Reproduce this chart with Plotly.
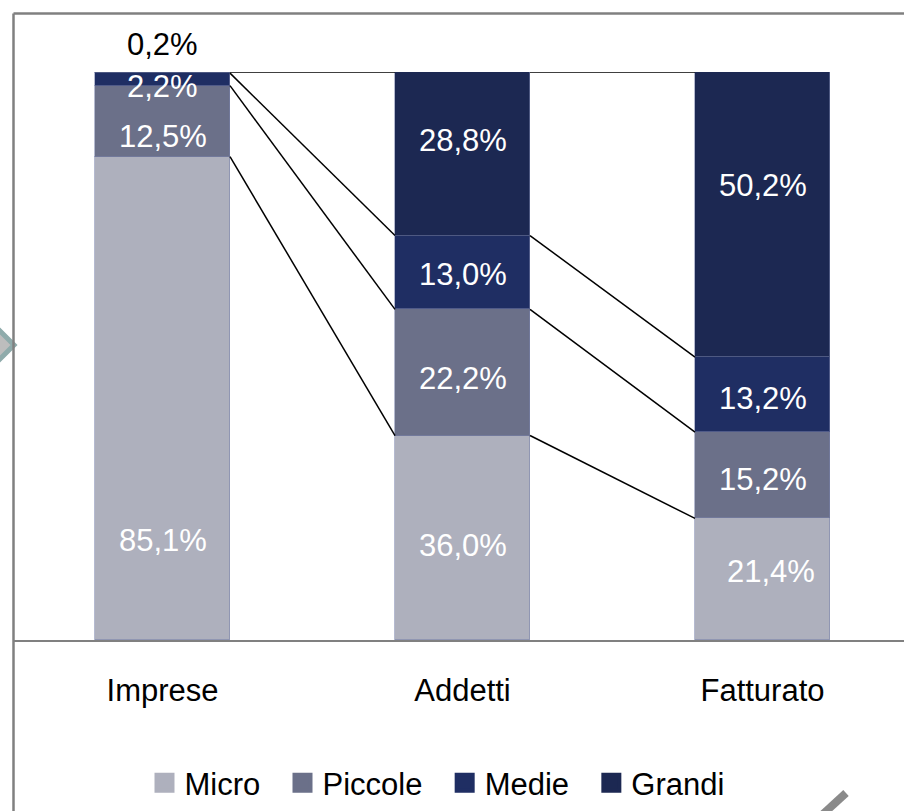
import plotly.graph_objects as go

# ---------------- data ----------------
categories = ["Imprese", "Addetti", "Fatturato"]
series_names = ["Micro", "Piccole", "Medie", "Grandi"]
micro = [85.1, 36.0, 21.4]
piccole = [12.5, 22.2, 15.2]
medie = [2.2, 13.0, 13.2]
grandi = [0.2, 28.8, 50.2]

# label vertical placement (in % units), as in the original
label_micro_y = [17.6, 16.7, 12.0]
label_piccole_y = [88.7, 46.1, 28.2]
label_medie_y = [97.5, 64.3, 42.6]
label_grandi_y = [104.8, 88.0, 80.1]

colors = ["#AEB0BD", "#6B7089", "#1F2E63", "#1C2852"]
FONT = "Liberation Sans, Arial, sans-serif"
FS = 31

values = [micro, piccole, medie, grandi]
label_ys = [label_micro_y, label_piccole_y, label_medie_y, label_grandi_y]

xs = list(range(len(categories)))
BW = 0.45

fig = go.Figure()

for name, vals, col in zip(series_names, values, colors):
    fig.add_trace(go.Bar(
        x=xs, y=vals, name=name, width=BW,
        marker=dict(color=col, line=dict(color="rgba(120,130,170,0.55)", width=1)),
        showlegend=False, hoverinfo="skip",
    ))

# connector lines between stacked segment boundaries
cum = []
run = [0.0] * len(categories)
for vals in values:
    run = [r + v for r, v in zip(run, vals)]
    cum.append(list(run))
lx, ly = [], []
for i in range(len(categories) - 1):
    for c in cum:
        lx += [i + BW / 2, i + 1 - BW / 2, None]
        ly += [c[i], c[i + 1], None]
fig.add_trace(go.Scatter(x=lx, y=ly, mode="lines", line=dict(color="black", width=1.5),
                         showlegend=False, hoverinfo="skip", cliponaxis=False))

# legend entries (trailing no-break spaces widen the gaps like the original)
for k, (name, col) in enumerate(zip(series_names, colors)):
    pad = "\u00a0\u00a0" if k < len(series_names) - 1 else ""
    fig.add_trace(go.Scatter(x=[None], y=[None], mode="markers", name=name + pad,
                             marker=dict(symbol="square", size=16, color=col,
                                         line=dict(color=col, width=4))))

# value labels
for si, (vals, ys) in enumerate(zip(values, label_ys)):
    for ci, (v, yy) in enumerate(zip(vals, ys)):
        txt = f"{v:.1f}%".replace(".", ",")
        color = "black" if (si == 3 and ci == 0) else "white"
        xshift = 8 if (si == 0 and ci == 2) else 0
        fig.add_annotation(x=ci, y=yy / 100, xref="x", yref="paper", yanchor="middle",
                           xanchor="center", text=txt, showarrow=False,
                           xshift=xshift, font=dict(family=FONT, size=FS, color=color))

L, T, B = 13, 72, 171
W, H = 904, 811
pw, ph = W - L, H - T - B
x0 = -(162.5 - L) / 300
x1 = x0 + pw / 300

def px(xp):
    return (xp - L) / pw

def py(yp):
    return (H - B - yp) / ph

shapes = [
    # chart border (top & left)
    dict(type="line", xref="paper", yref="paper", x0=px(13.5), x1=px(904), y0=py(13.5), y1=py(13.5),
         line=dict(color="#808080", width=2.5)),
    dict(type="line", xref="paper", yref="paper", x0=px(13.5), x1=px(13.5), y0=py(13.5), y1=py(811),
         line=dict(color="#808080", width=2.5)),
    # decorative diamond at the left
    dict(type="path", xref="paper", yref="paper",
         path=f"M {px(14)} {py(345)} L {px(-9)} {py(322)} L {px(-32)} {py(345)} L {px(-9)} {py(368)} Z",
         fillcolor="#BDBDBD", line=dict(color="#8FABAB", width=5), layer="below"),
    # decorative pencil stroke bottom-right
    dict(type="line", xref="paper", yref="paper", x0=px(846), x1=px(822), y0=py(793), y1=py(815),
         line=dict(color="#8A8A8A", width=8)),
]

fig.update_layout(
    width=W, height=H,
    margin=dict(l=L, r=0, t=T, b=B, pad=0),
    barmode="stack",
    bargap=0,
    plot_bgcolor="white", paper_bgcolor="white",
    font=dict(family=FONT, size=FS, color="black"),
    xaxis=dict(range=[x0, x1], tickvals=xs, ticktext=categories, showgrid=False, zeroline=False,
               showline=True, linecolor="#808080", linewidth=2,
               ticks="outside", ticklen=22, tickcolor="rgba(0,0,0,0)",
               tickfont=dict(family=FONT, size=FS, color="black")),
    yaxis=dict(range=[0, 100], visible=False, showgrid=False, zeroline=False),
    legend=dict(orientation="h", x=px(437), xanchor="center", y=py(783), yanchor="middle",
                traceorder="normal",
                font=dict(family=FONT, size=FS, color="black"), itemsizing="trace",
                bgcolor="rgba(0,0,0,0)"),
    shapes=shapes,
    showlegend=True,
)

fig.write_html("out.html")
